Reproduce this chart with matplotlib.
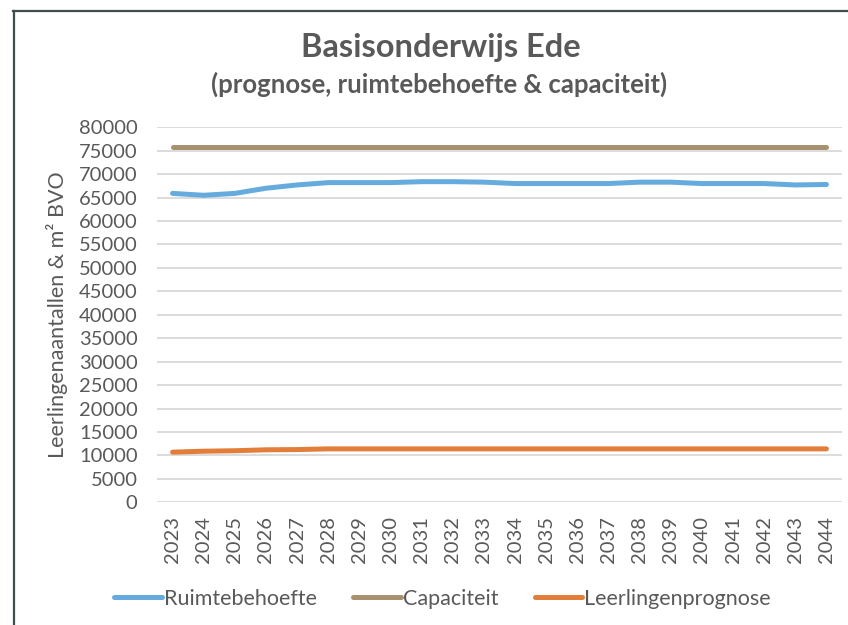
import matplotlib.pyplot as plt
from matplotlib.lines import Line2D

# jaren op de x-as
years = [str(y) for y in range(2023, 2045)]

# waarden
ruimtebehoefte = [65900, 65500, 65900, 67000, 67700, 68200, 68200, 68200, 68400, 68400, 68300,
                  68000, 68000, 68000, 68000, 68300, 68300, 68000, 68000, 68000, 67700, 67800]
capaciteit = [75900] * 22
leerlingenprognose = [10700, 10900, 11000, 11200, 11250, 11400, 11400, 11400, 11400, 11400, 11400,
                      11400, 11400, 11400, 11400, 11400, 11400, 11400, 11400, 11400, 11400, 11400]

yticks = list(range(0, 80001, 5000))

TXT = "#595959"
plt.rcParams["font.family"] = ["Lato", "DejaVu Sans"]

fig = plt.figure(figsize=(8.48, 6.25), dpi=100)
ax = fig.add_axes([157 / 848, 1 - 502.3 / 625, 685 / 848, 375 / 625])

x = range(len(years))
series = [
    ("Ruimtebehoefte", ruimtebehoefte, "#65abde"),
    ("Capaciteit", capaciteit, "#a8916e"),
    ("Leerlingenprognose", leerlingenprognose, "#e37d3a"),
]
for name, vals, col in series:
    ax.plot(x, vals, color=col, lw=3.6, solid_capstyle="round",
            solid_joinstyle="round", label=name, zorder=3)

ax.set_xlim(-0.5, len(years) - 0.5)
ax.set_ylim(0, 80000)
ax.set_yticks(yticks)
ax.set_yticklabels([str(v) for v in yticks])
ax.set_xticks(list(x))
ax.set_xticklabels(years, rotation=90)
ax.grid(axis="y", color="#d9d9d9", lw=1.3)
ax.set_axisbelow(True)
for s in ax.spines.values():
    s.set_visible(False)
ax.tick_params(axis="y", length=0, pad=14, labelsize=14.5, labelcolor=TXT)
ax.tick_params(axis="x", length=0, pad=10, labelsize=14.5, labelcolor=TXT)
ax.set_ylabel("Leerlingenaantallen & m² BVO", fontsize=15.5, color=TXT)
ax.yaxis.set_label_coords(-0.13, 0.5)

fig.text(0.52, 1 - 47 / 625, "Basisonderwijs Ede", ha="center", va="center",
         fontsize=23.5, fontweight="bold", color=TXT)
fig.text(0.518, 1 - 84 / 625, "(prognose, ruimtebehoefte & capaciteit)", ha="center",
         va="center", fontsize=18.5, fontweight="bold", color=TXT)

fig.legend(loc="center", bbox_to_anchor=(0.522, 1 - 599 / 625), ncol=3, frameon=False,
           fontsize=15.5, handlelength=2.2, handletextpad=0.1, columnspacing=1.7,
           labelcolor=TXT)

# kader van het grafiekvlak (alleen links en boven zichtbaar)
fig.add_artist(Line2D([13.5 / 848, 13.5 / 848], [0, 1 - 11 / 625], color="#3f4d4f", lw=1.6))
fig.add_artist(Line2D([13 / 848, 1], [1 - 11 / 625, 1 - 11 / 625], color="#3f4d4f", lw=1.6))

fig.savefig("out.png", dpi=100)
